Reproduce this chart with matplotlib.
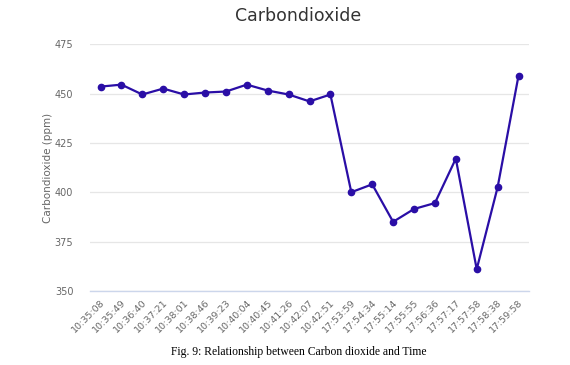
import numpy as np
import matplotlib.pyplot as plt

times = ["10:35:08", "10:35:49", "10:36:40", "10:37:21", "10:38:01", "10:38:46",
         "10:39:23", "10:40:04", "10:40:45", "10:41:26", "10:42:07", "10:42:51",
         "17:53:59", "17:54:34", "17:55:14", "17:55:55", "17:56:36", "17:57:17",
         "17:57:58", "17:58:38", "17:59:58"]
co2 = [453.5, 454.5, 449.5, 452.5, 449.5, 450.5, 451, 454.5, 451.5, 449.5, 446, 449.5,
       400, 404, 385, 391.5, 394.5, 417, 361, 402.5, 459]
yticks = [350, 375, 400, 425, 450, 475]

fig = plt.figure(figsize=(5.7, 3.65), dpi=100)
ax = fig.add_axes([0.158, 0.203, 0.770, 0.676])

x = np.arange(len(times))
ax.plot(x, co2, color='#2a0ea6', lw=1.6, marker='o', ms=4.5, zorder=3)

ax.set_xlim(-0.5, len(times) - 0.5)
ax.set_ylim(350, 475)
ax.set_yticks(yticks)
ax.set_xticks(x)
ax.set_xticklabels(times, rotation=45, ha='right', rotation_mode='anchor')
ax.tick_params(axis='x', length=0, pad=5, labelsize=6.8, labelcolor='#666666')
ax.tick_params(axis='y', length=0, pad=12, labelsize=7, labelcolor='#666666')
ax.grid(axis='y', color='#e6e6e6', lw=0.9)
ax.set_axisbelow(True)
for s in ['top', 'right', 'left']:
    ax.spines[s].set_visible(False)
ax.spines['bottom'].set_color('#ccd6eb')
ax.spines['bottom'].set_linewidth(1.0)

ax.set_ylabel('Carbondioxide (ppm)', color='#666666', fontsize=7.5, labelpad=1)
fig.text(0.523, 0.955, 'Carbondioxide', ha='center', va='center', fontsize=12.5, color='#333333')
fig.text(0.524, 0.035, 'Fig. 9: Relationship between Carbon dioxide and Time', ha='center', va='center',
         fontsize=8.4, family='Liberation Serif', color='black')

fig.savefig('out.png', dpi=100)
